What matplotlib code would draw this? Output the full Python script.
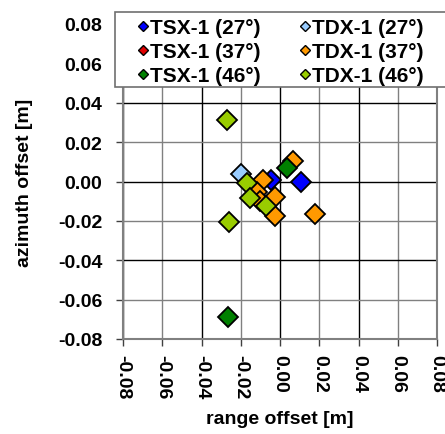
import matplotlib
matplotlib.use("Agg")
import matplotlib.pyplot as plt
from matplotlib.patches import Rectangle

plt.rcParams['font.family'] = ['Liberation Sans', 'DejaVu Sans']
plt.rcParams['font.weight'] = 'bold'
plt.rcParams['axes.unicode_minus'] = False

# data (range offset, azimuth offset) in m
tsx27_x = [-0.0045, 0.0107]
tsx27_y = [0.0010, 0.0000]
tsx37_x = []
tsx37_y = []
tsx46_x = [0.0038, -0.0264]
tsx46_y = [0.0068, -0.0686]
tdx27_x = [-0.0200]
tdx27_y = [0.0038]
tdx37_x = [-0.0089, -0.0117, -0.0102, -0.0025, -0.0025, 0.0066, 0.0178]
tdx37_y = [0.0010, -0.0053, -0.0099, -0.0079, -0.0175, 0.0104, -0.0165]
tdx46_x = [-0.0269, -0.0259, -0.0168, -0.0152, -0.0071]
tdx46_y = [0.0311, -0.0205, -0.0008, -0.0084, -0.0124]

ticks = [-0.08, -0.06, -0.04, -0.02, 0.00, 0.02, 0.04, 0.06, 0.08]
tick_labels = ["-0.08", "-0.06", "-0.04", "-0.02", "0.00", "0.02", "0.04", "0.06", "0.08"]

series = [
    ("TSX-1 (27°)", tsx27_x, tsx27_y, "#0000FF", 3),
    ("TSX-1 (37°)", tsx37_x, tsx37_y, "#E00000", 5),
    ("TSX-1 (46°)", tsx46_x, tsx46_y, "#008000", 7),
    ("TDX-1 (27°)", tdx27_x, tdx27_y, "#99CCFF", 4),
    ("TDX-1 (37°)", tdx37_x, tdx37_y, "#FF9900", 6),
    ("TDX-1 (46°)", tdx46_x, tdx46_y, "#99CC00", 8),
]

FS = 14
LFS = 15
W, H = 445, 435

fig = plt.figure(figsize=(W/100, H/100), dpi=100)
ax = fig.add_axes([123/W, 1-340/H, (437-123)/W, (340-25)/H])

handles = []
for label, xs, ys, col, z in series:
    ax.plot(xs, ys, linestyle='none', marker='D', markersize=10,
            markerfacecolor=col, markeredgecolor='black', markeredgewidth=1.3,
            zorder=z)
    h, = ax.plot([], [], linestyle='none', marker='D', markersize=4.8,
                 markerfacecolor=col, markeredgecolor='black', markeredgewidth=1.0,
                 label=label)
    handles.append(h)

ax.set_xlim(-0.08, 0.08)
ax.set_ylim(-0.08, 0.08)
ax.set_xticks(ticks)
ax.set_yticks(ticks)
ax.set_xticklabels(tick_labels, rotation=-90, fontsize=FS, fontweight='bold')
ax.set_yticklabels(tick_labels, fontsize=FS, fontweight='bold')
ax.tick_params(axis='both', direction='out', length=5, width=1, color='#404040')
ax.tick_params(axis='x', pad=6)
ax.tick_params(axis='y', pad=10)

ax.grid(True, linewidth=1.0, zorder=1)
for i, gl in enumerate(ax.get_xgridlines()):
    gl.set_color('black' if i % 2 == 0 else '#808080')
for i, gl in enumerate(ax.get_ygridlines()):
    gl.set_color('black' if i % 2 == 0 else '#808080')
ax.set_axisbelow(True)

for s in ax.spines.values():
    s.set_color('#808080')
    s.set_linewidth(1.5)

ax.set_xlabel("range offset [m]", fontsize=FS, fontweight='bold', labelpad=8)
ax.set_ylabel("azimuth offset [m]", fontsize=FS, fontweight='bold', labelpad=18)

# legend frame (extends beyond the right edge of the figure)
frame = Rectangle((115/W, 1-88/H), (460-115)/W, (88-13)/H, transform=fig.transFigure,
                  facecolor='white', edgecolor='#707070', linewidth=1.2, zorder=10)
fig.add_artist(frame)

leg = fig.legend(handles=handles, loc='upper left', ncol=2,
                 bbox_to_anchor=(137/W, 1-19/H),
                 prop={'size': LFS, 'weight': 'bold'},
                 frameon=False, borderpad=0, labelspacing=0.24,
                 handlelength=0.6, handletextpad=0.0, columnspacing=1.87,
                 borderaxespad=0)
leg.set_zorder(11)

fig.savefig("out.png", dpi=100)
